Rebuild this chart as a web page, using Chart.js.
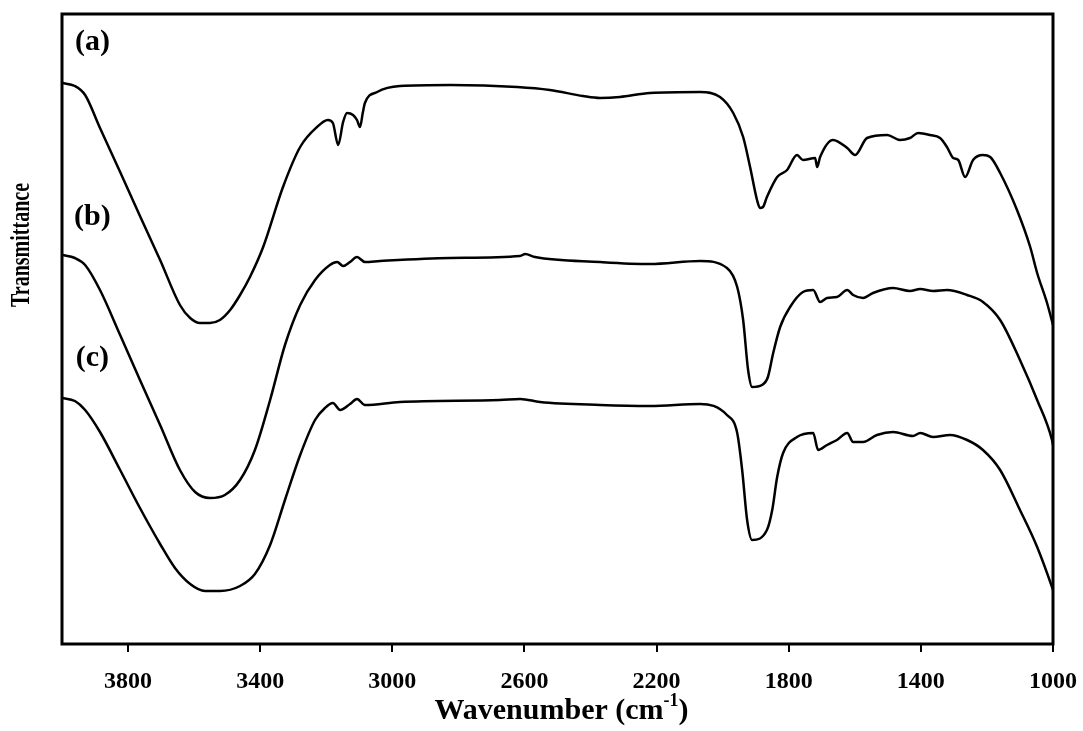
<!DOCTYPE html>
<html>
<head>
<meta charset="utf-8">
<script src="https://cdn.jsdelivr.net/npm/chart.js@4.4.0/dist/chart.umd.min.js"></script>
<style>
body { margin: 0; background: #fff; }
#ChartTable { width: 1083px; height: 731px; position: relative; }
</style>
</head>
<body>
<div id="ChartTable"><canvas id="graphCanvas"></canvas></div>
<script>
// FTIR spectra, transmittance in arbitrary units (curves are offset)
const wavenumberA = [4000, 3961, 3930, 3885, 3824, 3764, 3703, 3643, 3612, 3582, 3552, 3522, 3491, 3461, 3431, 3391, 3331, 3279, 3228, 3195, 3180, 3164, 3149, 3137, 3119, 3107, 3098, 3089, 3083, 3046, 2977, 2825, 2622, 2523, 2423, 2371, 2311, 2220, 2068, 2008, 1968, 1938, 1917, 1896, 1887, 1878, 1866, 1835, 1805, 1775, 1757, 1720, 1714, 1705, 1666, 1623, 1599, 1563, 1502, 1463, 1433, 1408, 1372, 1342, 1321, 1302, 1287, 1266, 1242, 1212, 1190, 1160, 1109, 1069, 1048, 1018, 1000];
const valuesA = [561, 558, 549, 516, 472, 428, 384, 339, 326, 321, 321, 324, 334, 349, 367, 397, 457, 497, 517, 524, 521, 499, 522, 531, 529, 524, 517, 532, 541, 552, 558, 559, 557, 554, 548, 546, 547, 551, 552, 547, 531, 507, 477, 444, 436, 437, 447, 467, 474, 489, 484, 486, 477, 487, 504, 496, 489, 506, 509, 504, 506, 511, 509, 506, 497, 486, 484, 467, 484, 489, 487, 471, 434, 397, 371, 341, 319];

const wavenumberB = [4000, 3961, 3930, 3885, 3824, 3764, 3703, 3643, 3597, 3552, 3507, 3461, 3416, 3370, 3325, 3279, 3234, 3189, 3167, 3149, 3128, 3107, 3083, 3037, 2825, 2613, 2598, 2568, 2371, 2220, 2068, 1987, 1956, 1938, 1923, 1911, 1881, 1863, 1847, 1826, 1796, 1757, 1726, 1705, 1684, 1654, 1623, 1605, 1575, 1545, 1484, 1433, 1402, 1363, 1321, 1260, 1212, 1160, 1100, 1048, 1003, 1000];
const valuesB = [389, 386, 379, 354, 309, 264, 219, 174, 152, 146, 149, 164, 194, 244, 299, 339, 364, 379, 382, 378, 382, 387, 382, 383, 386, 388, 390, 387, 382, 380, 383, 376, 357, 324, 274, 257, 259, 267, 291, 317, 337, 352, 354, 342, 346, 347, 354, 349, 346, 351, 356, 353, 355, 353, 354, 349, 342, 324, 284, 244, 204, 199];

const wavenumberC = [4000, 3961, 3930, 3885, 3824, 3764, 3703, 3658, 3612, 3567, 3522, 3461, 3416, 3370, 3325, 3279, 3234, 3204, 3180, 3158, 3128, 3107, 3083, 2977, 2674, 2613, 2553, 2371, 2220, 2068, 1987, 1956, 1941, 1926, 1911, 1866, 1850, 1835, 1817, 1775, 1726, 1711, 1684, 1654, 1623, 1605, 1575, 1533, 1484, 1424, 1402, 1363, 1312, 1260, 1212, 1160, 1100, 1048, 1003, 1000];
const valuesC = [246, 243, 234, 212, 174, 136, 100, 76, 60, 53, 53, 58, 70, 99, 144, 189, 224, 236, 241, 234, 240, 245, 239, 242, 244, 245, 242, 239, 238, 240, 229, 211, 174, 124, 104, 114, 134, 167, 191, 207, 211, 194, 199, 204, 211, 202, 202, 209, 212, 208, 211, 207, 209, 204, 194, 174, 134, 97, 57, 54];

const xTicks = [3800, 3400, 3000, 2600, 2200, 1800, 1400, 1000];
const curveLabels = ['(a)', '(b)', '(c)'];
const labelX = [3908, 3908, 3908];
const labelY = [602, 427, 286];

const serif = '"Liberation Serif", "Times New Roman", serif';

function pairs(xs, ys) {
    return xs.map((x, i) => ({ x: x, y: ys[i] }));
}

// labels, axis titles and the box round the plot
const decorations = {
    id: 'decorations',
    afterDraw(chart) {
        const ctx = chart.ctx;
        const area = chart.chartArea;
        const sx = chart.scales.x, sy = chart.scales.y;
        ctx.save();
        ctx.strokeStyle = '#000';
        ctx.lineWidth = 3;
        ctx.strokeRect(area.left, area.top, area.right - area.left, area.bottom - area.top);

        ctx.fillStyle = '#000';
        ctx.font = 'bold 30px ' + serif;
        ctx.textAlign = 'center';
        ctx.textBaseline = 'middle';
        for (let i = 0; i < curveLabels.length; i++) {
            ctx.fillText(curveLabels[i], sx.getPixelForValue(labelX[i]), sy.getPixelForValue(labelY[i]));
        }

        // x title with superscript
        const main = 'Wavenumber (cm';
        const sup = '-1';
        ctx.font = 'bold 30px ' + serif;
        const w1 = ctx.measureText(main).width;
        const w3 = ctx.measureText(')').width;
        ctx.font = 'bold 18px ' + serif;
        const w2 = ctx.measureText(sup).width;
        let x0 = (area.left + area.right) / 2 + 4 - (w1 + w2 + w3) / 2;
        ctx.textAlign = 'left';
        ctx.textBaseline = 'alphabetic';
        ctx.font = 'bold 30px ' + serif;
        ctx.fillText(main, x0, 719);
        ctx.font = 'bold 18px ' + serif;
        ctx.fillText(sup, x0 + w1, 706);
        ctx.font = 'bold 30px ' + serif;
        ctx.fillText(')', x0 + w1 + w2, 719);

        // y title
        ctx.translate(22, 245);
        ctx.rotate(-Math.PI / 2);
        ctx.scale(1, 1.35);
        ctx.font = 'bold 20px ' + serif;
        ctx.textAlign = 'center';
        ctx.textBaseline = 'middle';
        ctx.fillText('Transmittance', 0, 0);
        ctx.restore();
    }
};

const ctx = document.getElementById('graphCanvas');
const myChart = new Chart(ctx, {
    type: 'line',
    data: {
        datasets: [
            { label: '(a)', data: pairs(wavenumberA, valuesA) },
            { label: '(b)', data: pairs(wavenumberB, valuesB) },
            { label: '(c)', data: pairs(wavenumberC, valuesC) }
        ]
    },
    options: {
        responsive: true,
        maintainAspectRatio: false,
        animation: false,
        layout: { padding: { left: 62, right: 30, top: 14, bottom: 27 } },
        elements: {
            point: { radius: 0 },
            line: { borderColor: '#000', borderWidth: 2.5, cubicInterpolationMode: 'monotone', fill: false }
        },
        plugins: {
            legend: { display: false },
            tooltip: { enabled: false }
        },
        scales: {
            x: {
                type: 'linear',
                reverse: true,
                min: 1000,
                max: 4000,
                afterBuildTicks: s => { s.ticks = xTicks.map(v => ({ value: v })); },
                afterFit: s => { s.height = 60; s.paddingLeft = 0; s.paddingRight = 0; },
                ticks: {
                    color: '#000',
                    font: { family: serif, size: 24, weight: 'bold' },
                    padding: 15,
                    maxRotation: 0,
                    autoSkip: false,
                    callback: v => String(v)
                },
                grid: { drawOnChartArea: false, drawTicks: true, tickLength: 8, color: '#000', lineWidth: 2 },
                border: { display: false }
            },
            y: { display: false, min: 0, max: 630 }
        }
    },
    plugins: [decorations]
});
</script>
</body>
</html>
